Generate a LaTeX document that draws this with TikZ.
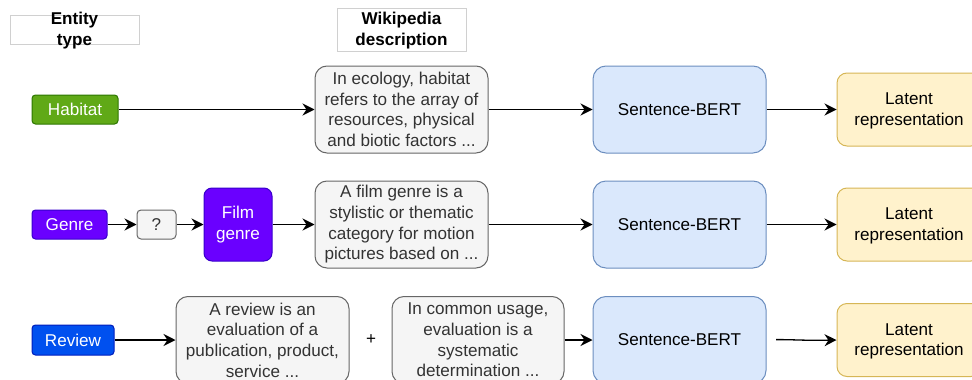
\documentclass[tikz,border=0pt]{standalone}
\usepackage{fontspec}
\setmainfont{Liberation Sans}
\usetikzlibrary{arrows.meta}
\definecolor{gfill}{HTML}{60A917}\definecolor{gdraw}{HTML}{2D7600}
\definecolor{pfill}{HTML}{6A00FF}\definecolor{pdraw}{HTML}{3700CC}
\definecolor{bfill}{HTML}{0050EF}\definecolor{bdraw}{HTML}{001DBC}
\definecolor{grfill}{HTML}{F5F5F5}\definecolor{grdraw}{HTML}{666666}\definecolor{grtext}{HTML}{333333}
\definecolor{sfill}{HTML}{DAE8FC}\definecolor{sdraw}{HTML}{6C8EBF}
\definecolor{lfill}{HTML}{FFF2CC}\definecolor{ldraw}{HTML}{D6B656}
\definecolor{hdraw}{HTML}{D0D0D0}
\tikzset{
  base/.style={font=\fontsize{17.1}{20.7}\selectfont, align=center, inner sep=0pt, line width=1pt},
  entity/.style={base, rounded corners=3.5pt, text=white},
  descbox/.style={base, draw=grdraw, fill=grfill, text=grtext, rounded corners=12pt, minimum width=173pt, minimum height=87pt},
  qbox/.style={base, draw=grdraw, fill=grfill, text=grtext, rounded corners=4pt},
  sbert/.style={base, draw=sdraw, fill=sfill, rounded corners=13pt, minimum width=173pt, minimum height=87pt},
  latent/.style={base, draw=ldraw, fill=lfill, rounded corners=10pt, minimum width=144pt, minimum height=73pt},
  hdrbox/.style={draw=hdraw, line width=0.8pt, inner sep=0pt},
  hdrtext/.style={base, font=\fontsize{17.1}{21}\selectfont\bfseries},
  conn/.style={-{Stealth[length=12pt,width=12pt,inset=4pt]}, line width=1.3pt},
}
\begin{document}
\begin{tikzpicture}[x=1pt,y=-1pt]
\useasboundingbox (0,0) rectangle (972,380);
\clip (0,0) rectangle (972,380);
% headers
\node[hdrbox, minimum width=129pt, minimum height=29pt] (ebox) at (74.5,29.5) {};
\node[hdrtext] (etext) at (74.5,31) {Entity\\type};
\node[hdrbox, minimum width=129pt, minimum height=43pt] (wbox) at (401.5,29.5) {};
\node[hdrtext] (wtext) at (401.5,30.5) {Wikipedia\\description};
% row 1
\node[entity, draw=gdraw, fill=gfill, minimum width=86pt, minimum height=29pt] (hab) at (75,109.5) {Habitat};
\node[descbox] (habd) at (401.5,109.5) {In ecology, habitat\\refers to the array of\\resources, physical\\and biotic factors ...};
\node[sbert] (sb1) at (679.5,109.5) {Sentence-BERT};
\node[latent] (lat1) at (909,109.5) {\strut Latent\\representation};
% row 2
\node[entity, draw=pdraw, fill=pfill, minimum width=75pt, minimum height=29pt] (gen) at (69.5,224.5) {Genre};
\node[qbox, minimum width=39pt, minimum height=29pt] (q) at (156.5,224.5) {?};
\node[entity, draw=pdraw, fill=pfill, rounded corners=8pt, minimum width=68pt, minimum height=73pt] (film) at (238,224.5) {Film\\genre};
\node[descbox] (gend) at (401.5,224.5) {A film genre is a\\stylistic or thematic\\category for motion\\pictures based on ...};
\node[sbert] (sb2) at (679.5,224.5) {Sentence-BERT};
\node[latent] (lat2) at (909,224.5) {\strut Latent\\representation};
% row 3
\node[entity, draw=bdraw, fill=bfill, minimum width=82pt, minimum height=30pt] (rev) at (73,340) {Review};
\node[descbox] (revd) at (262.5,340) {A review is an\\evaluation of a\\publication, product,\\service ...};
\node[base] (plus) at (371,340) {+};
\node[descbox, minimum width=172pt] (evd) at (478,340) {In common usage,\\evaluation is a\\systematic\\determination ...};
\node[sbert] (sb3) at (679.5,340) {Sentence-BERT};
\node[latent] (lat3) at (909,340) {\strut Latent\\representation};
\coordinate (s3out) at (776,339.6);
% connectors
\draw[conn] (hab) -- (habd);
\draw[conn] (habd) -- (sb1);
\draw[conn] (sb1) -- (lat1);
\draw[conn] (gen) -- (q);
\draw[conn] (q) -- (film);
\draw[conn] (film) -- (gend);
\draw[conn] (gend) -- (sb2);
\draw[conn] (sb2) -- (lat2);
\draw[conn] (rev) -- (revd);
\draw[conn] (evd) -- (sb3);
\draw[conn] (s3out) .. controls (798,339.6) and (800,340.6) .. (lat3.west);
\end{tikzpicture}
\end{document}
